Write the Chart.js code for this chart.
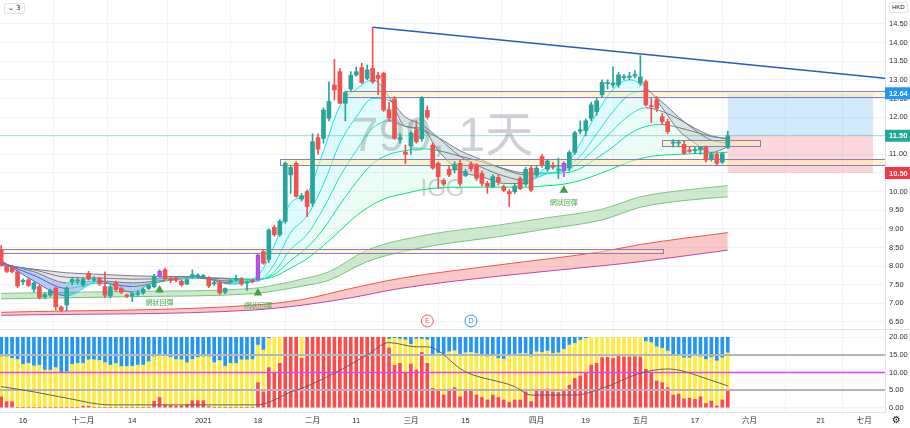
<!DOCTYPE html>
<html>
<head>
<meta charset="utf-8">
<script src="https://cdn.jsdelivr.net/npm/chart.js@4.4.1/dist/chart.umd.min.js"></script>
<style>
html, body { margin: 0; padding: 0; background: #fff; }
#wrap { position: relative; width: 910px; height: 428px; }
#lg { position: absolute; left: 4px; top: 3px; height: 9px; padding: 0 3px; border: 1px solid #e0e3eb; border-radius: 2px;
      font: 7px "DejaVu Sans", sans-serif; line-height: 9px; color: #131722; background: #fff; }
#cur { position: absolute; left: 889px; top: 2px; height: 9px; padding: 0 2px; border: 1px solid #e0e3eb; border-radius: 2px;
       font: 6px "Liberation Sans", sans-serif; line-height: 9px; color: #131722; background: #fff; }
#gear { position: absolute; left: 892px; top: 414px; font: 10px "DejaVu Sans", sans-serif; color: #131722; }
</style>
</head>
<body>
<div id="wrap">
  <canvas id="chart" width="910" height="428"></canvas>
  <div id="lg">⌄ 3</div>
  <div id="cur">HKD</div>
  <div id="gear">⚙</div>
</div>
<script>
// daily candles, 10 Nov 2020 .. 26 May 2021 (one entry per trading day)
const opens = [8.45,8.0,7.96,7.85,7.58,7.63,7.38,7.45,7.18,7.22,
  7.41,6.9,6.96,7.58,7.6,7.5,7.8,7.62,7.66,7.45,
  7.2,7.56,7.4,7.22,7.2,7.24,7.28,7.4,7.45,7.73,
  7.9,7.66,7.68,7.6,7.52,7.74,7.72,7.72,7.67,7.52,
  7.56,7.3,7.58,7.62,7.66,7.55,7.62,7.63,8.39,8.18,
  9.04,8.84,9.2,10.45,10.76,9.8,10.0,9.69,11.45,11.43,
  11.97,12.86,13.22,12.37,12.75,13.13,13.33,13.04,13.31,13.12,
  13.18,12.2,12.49,11.4,11.06,11.23,11.66,11.42,12.18,11.25,
  10.76,10.3,10.6,10.58,10.76,10.43,10.74,10.72,10.49,10.22,
  10.13,10.38,10.13,10.0,10.0,10.35,10.2,10.63,10.45,10.94,
  10.6,10.7,10.58,10.55,10.63,11.05,11.62,11.64,11.97,12.15,
  12.6,12.9,12.86,12.86,13.06,13.07,13.1,12.91,12.95,12.3,
  12.46,12.01,11.88,11.3,11.3,11.27,11.12,11.1,11.12,11.19,
  10.87,11.0,10.79,11.19];
const highs = [8.55,8.05,8.0,7.9,7.66,7.68,7.58,7.5,7.28,7.38,
  7.45,6.93,7.45,7.7,7.68,7.7,7.86,7.72,7.7,7.85,
  7.5,7.6,7.44,7.25,7.3,7.34,7.42,7.52,7.78,7.9,
  7.95,7.72,7.7,7.64,7.66,7.9,7.8,7.78,7.72,7.6,
  7.6,7.42,7.64,7.76,7.7,7.6,7.66,8.33,8.45,9.0,
  9.1,9.25,10.8,10.7,10.8,9.95,10.05,11.55,11.55,12.25,
  12.95,13.55,13.3,12.7,13.22,13.35,13.45,13.4,14.41,13.2,
  13.2,12.4,12.55,11.55,11.25,11.62,11.9,12.55,12.3,11.3,
  10.8,10.35,10.7,10.8,10.85,10.6,10.8,10.75,10.55,10.28,
  10.45,10.45,10.18,10.05,10.2,10.4,10.65,10.68,10.7,11.0,
  10.85,10.78,10.9,10.8,11.1,11.62,11.9,11.95,12.4,12.5,
  13.0,13.0,13.35,13.2,13.15,13.2,13.25,13.65,13.0,12.5,
  12.55,12.1,11.95,11.4,11.38,11.35,11.2,11.2,11.2,11.22,
  11.05,11.05,11.05,11.62];
const lows = [8.0,7.82,7.82,7.42,7.5,7.45,7.3,7.12,7.12,7.18,
  6.82,6.78,6.8,7.5,7.52,7.45,7.62,7.58,7.48,7.15,
  7.15,7.32,7.26,7.15,7.05,7.18,7.24,7.36,7.42,7.7,
  7.62,7.55,7.58,7.46,7.5,7.7,7.68,7.66,7.42,7.48,
  7.24,7.26,7.54,7.6,7.48,7.35,7.55,7.6,8.05,8.1,
  8.8,8.8,9.15,9.95,9.85,9.75,9.33,9.6,11.0,11.3,
  11.9,12.46,12.37,11.9,12.7,13.1,12.9,13.0,12.9,12.6,
  12.15,11.9,11.4,11.3,10.75,11.0,11.3,11.35,11.95,10.6,
  10.1,10.15,10.4,10.5,10.15,10.4,10.55,10.3,10.15,9.95,
  10.1,10.18,10.0,9.6,9.95,10.05,10.15,10.0,10.4,10.65,
  10.55,10.6,10.35,10.4,10.55,11.0,11.55,11.5,11.9,12.05,
  12.55,12.75,12.8,12.8,13.0,13.0,13.05,12.85,12.3,11.85,
  12.15,11.8,11.55,11.2,11.2,11.0,11.05,11.02,11.0,10.8,
  10.82,10.7,10.75,11.15];
const closes = [8.03,7.86,7.85,7.47,7.62,7.48,7.55,7.16,7.24,7.34,
  6.91,6.82,7.41,7.64,7.63,7.65,7.65,7.66,7.52,7.22,
  7.45,7.36,7.3,7.19,7.26,7.28,7.38,7.48,7.73,7.87,
  7.66,7.62,7.62,7.5,7.64,7.77,7.76,7.74,7.47,7.56,
  7.28,7.4,7.61,7.66,7.52,7.57,7.58,8.3,8.08,8.97,
  8.84,9.2,10.76,10.65,9.87,9.89,9.6,11.34,11.14,12.19,
  12.42,12.73,12.37,12.66,13.12,13.22,12.93,13.27,12.95,13.04,
  12.19,11.98,11.43,11.45,11.0,11.57,11.34,12.53,12.0,10.63,
  10.4,10.2,10.45,10.73,10.22,10.54,10.61,10.36,10.22,10.14,
  10.4,10.26,10.03,9.94,10.15,10.08,10.6,10.04,10.63,10.72,
  10.82,10.66,10.6,10.76,11.05,11.58,11.66,11.9,12.33,12.44,
  12.93,12.93,12.92,13.13,13.08,13.1,13.14,13.08,12.33,12.28,
  12.24,11.88,11.61,11.33,11.33,11.03,11.08,11.13,11.19,10.85,
  11.0,10.76,11.02,11.5];

// moving-average ribbon, read at these bars
const ribbonIdx = [0,6,12,18,24,30,36,42,47,50,53,56,59,62,65,68,71,74,77,80,84,88,92,96,100,103,106,109,112,115,118,121,124,127,130,133];
const ribbonFast = [8.15,7.6,7.2,7.6,7.3,7.72,7.72,7.52,7.75,8.55,9.7,9.95,11.1,12.3,12.75,13.0,12.55,11.75,11.7,11.1,10.55,10.4,10.22,10.22,10.65,10.7,11.3,12.1,12.75,13.0,12.8,12.25,11.65,11.3,11.05,11.2];
const ribbon2 = [8.1,7.75,7.4,7.55,7.45,7.6,7.68,7.55,7.6,8.05,8.9,9.35,10.2,11.3,12.0,12.5,12.45,12.0,11.8,11.45,10.95,10.65,10.42,10.3,10.48,10.6,10.95,11.55,12.15,12.6,12.7,12.4,12.0,11.65,11.38,11.3];
const ribbon3 = [8.08,7.85,7.55,7.6,7.55,7.62,7.68,7.6,7.62,7.85,8.45,8.85,9.55,10.4,11.1,11.7,11.9,11.75,11.65,11.45,11.1,10.85,10.6,10.45,10.5,10.55,10.8,11.2,11.65,12.05,12.25,12.15,11.95,11.7,11.5,11.42];
const ribbon4 = [8.05,7.9,7.7,7.68,7.65,7.66,7.69,7.65,7.64,7.78,8.15,8.5,9.0,9.65,10.25,10.75,11.0,11.1,11.15,11.1,10.95,10.8,10.62,10.5,10.5,10.5,10.62,10.9,11.2,11.55,11.75,11.8,11.72,11.6,11.48,11.42];
const ribbonSlow = [8.02,7.92,7.82,7.78,7.74,7.72,7.7,7.67,7.65,7.72,7.95,8.2,8.55,8.95,9.35,9.65,9.85,9.95,10.05,10.1,10.12,10.12,10.12,10.12,10.16,10.2,10.3,10.45,10.62,10.8,10.92,10.98,11.0,11.02,11.03,11.06];
const ribbonLeftEnd = 9; // points of the ribbon before the January breakout

// slow bands
const greenIdx = [0,24,46,52,55,60,67,78,91,100,110,117,125,133];
const greenTop = [7.27,7.32,7.40,7.55,7.65,7.85,8.43,8.84,9.10,9.30,9.53,9.86,10.04,10.16];
const greenBot = [7.12,7.18,7.26,7.38,7.46,7.62,8.12,8.52,8.79,9.00,9.24,9.58,9.76,9.86];
const redIdx = [0,46,55,64,73,91,110,117,133];
const redTop = [6.76,6.95,7.10,7.40,7.67,8.03,8.39,8.58,8.90];
const redBot = [6.68,6.82,6.95,7.15,7.40,7.73,8.01,8.12,8.43];

// signals
const signalIdx = [29, 47, 103];
const signalPrice = [7.36, 7.28, 10.04];
const signalText = '網狀回彈';
const eventIdx = [78, 86];
const eventText = ['E', 'D'];

// drawings
const zoneFrom = [-1, 51, 63, 121];
const zoneTo = [121, 163, 163, 139];
const zoneTop = [8.46, 10.88, 12.70, 11.38];
const zoneBottom = [8.36, 10.71, 12.55, 11.22];
const trendIdx = [68, 162];
const trendPrice = [14.41, 13.04];
const posFrom = 133, posTo = 159.6;
const posEntry = 11.50, posTarget = 12.64, posStop = 10.50;
const markPrice = 11.44;
const watermark = '799, 1天';
const watermarkSub = 'IGG';

// lower pane oscillator
const oscRed = [3.1,1.7,1.7,0,0,0,0,0,0,0,
  0,0,0,0,0,0.4,0.4,0,0,0,
  0,0,0,0,0,0,0,0,1.8,2.9,
  0.8,0.6,0.4,0.5,0.8,2.0,2.0,2.0,0.3,0,
  0,0,0,0,0,0,0,7.1,4.5,11.4,
  10.0,12.6,20,20,20,14.0,20,20,20,20,
  20,20,20,20,20,20,20,20,20,20,
  20,17.0,12.0,12.6,9.8,12.4,10.7,15.7,12.6,5.5,
  4.7,3.6,5.0,5.7,3.1,4.7,4.8,3.6,2.9,2.2,
  3.6,2.9,2.2,1.5,2.2,2.2,4.5,1.7,4.7,4.7,
  5.3,4.5,4.3,4.8,6.4,8.3,9.0,9.8,12.1,12.6,
  14.2,14.3,14.0,14.6,14.4,14.4,14.5,14.4,10.9,9.8,
  7.6,7.1,5.7,3.6,3.9,2.5,2.7,2.4,3.1,1.2,
  1.9,0.5,2.2,4.7];
const oscYellowTop = [14.5,14.5,14.0,13.7,12.3,12.6,11.9,12.1,10.7,10.7,
  11.4,10.0,10.2,12.3,12.6,12.6,13.6,13.6,13.4,12.8,
  12.1,12.6,11.7,11.7,11.8,12.1,12.1,13.1,14.5,15.2,
  14.7,14.3,13.7,13.6,12.8,13.7,14.3,14.5,14.5,12.8,
  13.4,11.8,12.6,12.6,13.6,13.6,13.7,17.8,16.4,19.7,
  20,20,20,20,20,20,20,20,20,20,
  20,20,20,20,20,20,20,20,20,20,
  20,19.5,19.7,19.5,19.3,18.0,19.5,19.5,19.3,15.0,
  15.5,15.2,15.9,16.2,15.2,15.6,15.7,15.4,15.2,14.5,
  14.7,14.0,13.8,14.9,15.2,15.4,15.4,14.5,15.9,15.7,
  16.1,15.4,15.6,16.6,17.8,18.3,19.2,19.7,20,20,
  20,20,20,20,20,20,20,20,18.8,18.5,
  17.3,16.9,16.1,15.0,15.0,14.2,14.2,14.7,14.5,13.7,
  14.3,13.3,14.2,15.6];
const oscMax = 20;
const oscLineIdx = [0,6,12,20,30,47,50,53,55,61,67,71,76,78,85,94,97,105,110,117,122,124,129,133];
const oscLineVal = [6.0,4.5,2.7,0.8,0.8,0.8,2.2,4.5,5.5,9.8,15.0,18.5,17.3,17.3,10.2,6.0,3.6,3.6,5.5,9.8,11.0,10.7,8.3,6.2];
const oscLevels = [5, 10, 15];

// axis ticks
const timeTickIdx = [4,15,24,37,47,57,65,75,85,98,107,117,127,137,150,158];
const timeTickText = ['16','十二月','14','2021','18','二月','11','三月','15','四月','19','五月','17','六月','21','七月'];
const priceTicks = [6.5,7,7.5,8,8.5,9,9.5,10,10.5,11,11.5,12,12.5,13,13.5,14,14.5];
const oscTicks = [0,5,10,15,20];

const FONT = '"Liberation Sans", "Noto Sans CJK TC", sans-serif';
const X_MIN = -0.21, X_MAX = 161.78;
const UP = '#26a69a', DOWN = '#ef5350', MARK = '#e040fb';
const ribbonUp = ['#00e5ff', '#1ce3e6', '#1de9c4', '#00e6a8', '#00e676'];
const ribbonFill = ['rgba(0,229,255,0.13)', 'rgba(0,229,230,0.10)', 'rgba(29,233,182,0.09)', 'rgba(0,230,118,0.08)'];

const idx = closes.map((_, i) => i);
const pts = (xs, ys) => xs.map((x, k) => ({ x, y: ys[k] }));
const candleColor = i => signalIdx.includes(i) ? MARK : (closes[i] >= opens[i] ? UP : DOWN);

function ribbonColor(k) {
  return c => {
    const i0 = c.p0.parsed.x, i1 = c.p1.parsed.x;
    const v = (c.p0.parsed.y + c.p1.parsed.y) / 2;
    let s = 0, n = 0;
    for (let i = i0; i <= i1; i++) { s += closes[i]; n++; }
    const cl = s / n;
    if (v <= cl) return ribbonUp[k];
    return (i1 <= 47 && k < 2 && v - cl > 0.15) ? '#2962ff' : '#787b86';
  };
}

const datasets = [];
const line = (data, extra) => Object.assign({
  type: 'line', yAxisID: 'y', data, pointRadius: 0, borderWidth: 1, fill: false,
  cubicInterpolationMode: 'monotone', order: 10
}, extra);

// bands
datasets.push(line(pts(greenIdx, greenTop), { borderColor: '#81c784', fill: '+1', backgroundColor: 'rgba(76,175,80,0.28)', order: 20 }));
datasets.push(line(pts(greenIdx, greenBot), { borderColor: '#81c784', order: 20 }));
datasets.push(line(pts(redIdx, redTop), { borderColor: '#ef5350', fill: '+1', backgroundColor: 'rgba(239,83,80,0.32)', order: 20 }));
datasets.push(line(pts(redIdx, redBot), { borderColor: '#ab47bc', order: 20 }));

// blue tint in the ribbon where the fast lines drop under it before the breakout
datasets.push(line(pts(ribbonIdx.slice(0, ribbonLeftEnd), ribbon3.slice(0, ribbonLeftEnd)), {
  borderWidth: 0, order: 12, fill: { target: '+1', above: 'rgba(41,98,255,0.22)', below: 'rgba(0,0,0,0)' }
}));
datasets.push(line(pts(ribbonIdx.slice(0, ribbonLeftEnd), ribbonFast.slice(0, ribbonLeftEnd)), { borderWidth: 0, order: 12 }));

// ribbon
[ribbonFast, ribbon2, ribbon3, ribbon4, ribbonSlow].forEach((vals, k) => {
  datasets.push(line(pts(ribbonIdx, vals), {
    borderColor: ribbonUp[k],
    segment: { borderColor: ribbonColor(k) },
    fill: k < 4 ? { target: '+1', above: ribbonFill[k], below: 'rgba(120,123,134,0.19)' } : false
  }));
});

// current price line and trend line
datasets.push(line([{ x: X_MIN, y: closes[closes.length - 1] }, { x: X_MAX, y: closes[closes.length - 1] }],
  { borderColor: 'rgba(38,166,154,0.35)', order: 5 }));
datasets.push(line(pts(trendIdx, trendPrice), { borderColor: '#2a5bb8', borderWidth: 1.5, order: 5 }));

// candles
const wickSet = datasets.length;
datasets.push({
  type: 'bar', yAxisID: 'y', grouped: false, barThickness: 1, order: 2,
  data: idx.map(i => ({ x: i, y: [lows[i], highs[i]] })),
  backgroundColor: idx.map(candleColor)
});
datasets.push({
  type: 'bar', yAxisID: 'y', grouped: false, barThickness: 4, minBarLength: 1, order: 1,
  data: idx.map(i => ({ x: i, y: [opens[i], closes[i]] })),
  backgroundColor: idx.map(candleColor),
  borderColor: idx.map(i => signalIdx.includes(i) ? '#5c6bc0' : candleColor(i)),
  borderWidth: idx.map(i => signalIdx.includes(i) ? 1 : 0)
});

// signal triangles
datasets.push({
  type: 'line', yAxisID: 'y', showLine: false, order: 0,
  data: pts(signalIdx, signalPrice),
  pointStyle: 'triangle', pointRadius: 5, backgroundColor: '#43a047', borderColor: '#43a047', borderWidth: 0
});

// oscillator pane
const oscBar = (data, color) => ({
  type: 'bar', yAxisID: 'y2', grouped: false, barThickness: 3, order: 8, data, backgroundColor: color
});
datasets.push(oscBar(idx.map(i => ({ x: i, y: [0, oscRed[i]] })), '#ff4a4a'));
datasets.push(oscBar(idx.map(i => ({ x: i, y: [oscRed[i], oscYellowTop[i]] })), '#ffeb3b'));
datasets.push(oscBar(idx.map(i => ({ x: i, y: [oscYellowTop[i], oscMax] })), '#2196f3'));
oscLevels.forEach(v => {
  datasets.push(line([{ x: X_MIN, y: v }, { x: X_MAX, y: v }], {
    yAxisID: 'y2', order: 4,
    borderColor: v === 10 ? '#e040fb' : '#b2b5be', borderWidth: v === 10 ? 1.5 : 2
  }));
});
datasets.push(line(pts(oscLineIdx, oscLineVal), { yAxisID: 'y2', borderColor: '#5d606b', order: 3 }));

const clipPane = (ctx, a, s) => { ctx.beginPath(); ctx.rect(a.left, s.top, a.right - a.left, s.bottom - s.top); ctx.clip(); };

const overlays = {
  id: 'overlays',
  beforeDatasetsDraw(chart) {
    const { ctx, chartArea: a, scales: { x, y } } = chart;
    ctx.save();
    clipPane(ctx, a, y);
    const cx = (a.left + a.right) / 2, h = y.bottom - y.top;
    ctx.fillStyle = 'rgba(140,143,153,0.42)';
    ctx.textAlign = 'center';
    ctx.textBaseline = 'middle';
    ctx.font = '48px ' + FONT;
    ctx.fillText(watermark, cx, y.top + h * 0.42);
    ctx.font = '24px ' + FONT;
    ctx.fillText(watermarkSub, cx, y.top + h * 0.575);
    const p0 = x.getPixelForValue(posFrom), p1 = x.getPixelForValue(posTo);
    const yT = y.getPixelForValue(posTarget), yE = y.getPixelForValue(posEntry), yS = y.getPixelForValue(posStop);
    ctx.fillStyle = 'rgba(33,150,243,0.2)';
    ctx.fillRect(p0, yT, p1 - p0, yE - yT);
    ctx.fillStyle = 'rgba(242,54,69,0.2)';
    ctx.fillRect(p0, yE, p1 - p0, yS - yE);
    ctx.restore();
  },
  beforeDatasetDraw(chart, args) {
    if (args.index !== wickSet) return;
    const { ctx, chartArea: a, scales: { x, y } } = chart;
    ctx.save();
    clipPane(ctx, a, y);
    zoneFrom.forEach((f, k) => {
      const x0 = x.getPixelForValue(f), x1 = x.getPixelForValue(zoneTo[k]);
      const y0 = y.getPixelForValue(zoneTop[k]), y1 = y.getPixelForValue(zoneBottom[k]);
      ctx.fillStyle = 'rgba(255,238,160,0.5)';
      ctx.fillRect(x0, y0, x1 - x0, y1 - y0);
      ctx.strokeStyle = '#8e7cc3';
      ctx.lineWidth = 1;
      ctx.strokeRect(Math.round(x0) + 0.5, Math.round(y0) + 0.5, Math.round(x1 - x0), Math.round(y1 - y0));
    });
    ctx.restore();
  },
  afterDatasetsDraw(chart) {
    const { ctx, chartArea: a, scales: { x, y } } = chart;
    ctx.save();
    clipPane(ctx, a, y);
    ctx.textAlign = 'center';
    ctx.textBaseline = 'middle';
    ctx.fillStyle = '#4caf50';
    ctx.font = '7px "Noto Sans CJK TC", sans-serif';
    signalIdx.forEach((i, k) => {
      ctx.fillText(signalText, x.getPixelForValue(i), y.getPixelForValue(signalPrice[k]) + 12);
    });
    eventIdx.forEach((i, k) => {
      const col = k === 0 ? '#f7525f' : '#2196f3';
      const px = x.getPixelForValue(i), py = y.bottom - 8;
      ctx.beginPath();
      ctx.arc(px, py, 6, 0, Math.PI * 2);
      ctx.fillStyle = '#fff';
      ctx.fill();
      ctx.strokeStyle = col;
      ctx.lineWidth = 1;
      ctx.stroke();
      ctx.fillStyle = col;
      ctx.font = '7px ' + FONT;
      ctx.fillText(eventText[k], px, py + 0.5);
    });
    ctx.restore();
  },
  afterDraw(chart) {
    const { ctx, width, scales: { y } } = chart;
    ctx.save();
    ctx.strokeStyle = '#e0e3eb';
    ctx.lineWidth = 1;
    ctx.beginPath();
    ctx.moveTo(0, Math.round(y.bottom) + 0.5);
    ctx.lineTo(width, Math.round(y.bottom) + 0.5);
    ctx.stroke();
    ctx.textBaseline = 'middle';
    ctx.textAlign = 'left';
    const py = y.getPixelForValue(markPrice);
    ctx.fillStyle = '#fff';
    ctx.fillRect(y.left + 1, py - 4, width - y.left, 8);
    ctx.fillStyle = '#131722';
    ctx.fillRect(y.left, py, 3, 1);
    ctx.font = '7.5px ' + FONT;
    ctx.fillText(markPrice.toFixed(2), y.left + 4, py + 0.5);
    [[posTarget, '#2196f3'], [posEntry, '#22ab94'], [posStop, '#f23645']].forEach(([v, col]) => {
      const p = y.getPixelForValue(v);
      ctx.fillStyle = col;
      ctx.fillRect(y.left, p - 6, width - y.left, 12);
      ctx.fillStyle = '#fff';
      ctx.font = 'bold 7.5px ' + FONT;
      ctx.fillText(v.toFixed(2), y.left + 4, p + 0.5);
    });
    ctx.restore();
  }
};

Chart.defaults.font.family = FONT;
Chart.defaults.color = '#2a2e39';

const tickFont = { size: 7.5, family: FONT };
const noPadY = w => s => { s.width = w; s.paddingTop = 0; s.paddingBottom = 0; };
new Chart(document.getElementById('chart'), {
  type: 'bar',
  data: { datasets },
  options: {
    responsive: false,
    animation: false,
    devicePixelRatio: 1,
    layout: { padding: 0, autoPadding: false },
    plugins: { legend: { display: false }, tooltip: { enabled: false } },
    scales: {
      x: {
        type: 'linear', min: X_MIN, max: X_MAX, offset: false,
        afterBuildTicks: s => { s.ticks = timeTickIdx.map(v => ({ value: v })); },
        afterFit: s => { s.height = 16; s.paddingLeft = 0; s.paddingRight = 0; },
        ticks: { autoSkip: false, maxRotation: 0, padding: 4, font: tickFont, callback: (v, k) => timeTickText[k] },
        grid: { color: '#f0f3fa', drawTicks: false },
        border: { color: '#e0e3eb' }
      },
      y: {
        position: 'right', stack: 'pane', stackWeight: 329, min: 6.312, max: 15.144,
        afterBuildTicks: s => { s.ticks = priceTicks.map(v => ({ value: v })); },
        afterFit: noPadY(25),
        ticks: { autoSkip: false, padding: 4, font: tickFont, callback: v => v.toFixed(2) },
        grid: { color: '#f0f3fa', drawTicks: false },
        border: { color: '#e0e3eb' }
      },
      y2: {
        position: 'right', stack: 'pane', stackWeight: 83, min: -1.22, max: 22.36,
        afterBuildTicks: s => { s.ticks = oscTicks.map(v => ({ value: v })); },
        afterFit: noPadY(25),
        ticks: { autoSkip: false, padding: 4, font: tickFont, callback: v => v.toFixed(2) },
        grid: { color: '#f0f3fa', drawTicks: false },
        border: { color: '#e0e3eb' }
      }
    }
  },
  plugins: [overlays]
});
</script>
</body>
</html>
